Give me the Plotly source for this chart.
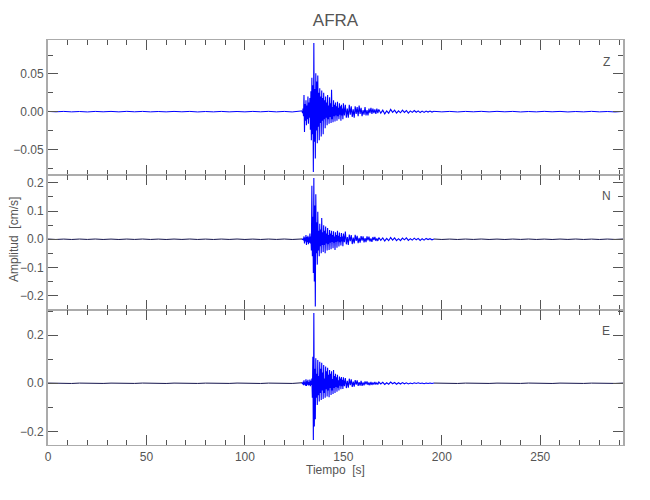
import numpy as np
import plotly.graph_objects as go
from plotly.subplots import make_subplots

# ---------------- data ----------------
TITLE = "AFRA"
COMPONENTS = ["Z", "N", "E"]
X_LABEL = "Tiempo  [s]"
Y_LABEL = "Amplitud  [cm/s]"
X_TICKS = [0, 50, 100, 150, 200, 250]

# sampling of each segment (start time, step in s)
PRE_T0, PRE_DT = 0.0, 4.0
EVT_T0, EVT_DT = 129.0, 0.25
MID_T0, MID_DT = 150.0, 0.5
TAIL_T0, TAIL_DT = 168.0, 1.0
POST_T0, POST_DT = 196.0, 4.0

# ---- Z component ----
z_pre = [0.0003, -0.0002, 0.0003, -0.0003, 0.0002, -0.0004, 0.0003, -0.0002,
         0.0003, -0.0003, 0.0004, -0.0002, 0.0003, -0.0003, 0.0002, -0.0003,
         0.0003, -0.0002, 0.0003, -0.0004, 0.0002, -0.0003, 0.0003, -0.0003,
         0.0002, -0.0003, 0.0003, -0.0002, 0.0004, -0.0003, 0.0003, -0.0004]
z_evt = [0.001, -0.002, 0.004, -0.006,
         0.022, -0.027, 0.010, -0.012,
         0.015, -0.018, 0.008, -0.010,
         0.020, -0.016, 0.012, -0.008,
         0.018, -0.024, 0.027, -0.038,
         0.045, -0.030, 0.035, -0.080,
         0.091, -0.040, 0.030, -0.062,
         0.051, -0.025, 0.040, -0.042,
         0.048, -0.020, 0.025, -0.038,
         0.031, -0.015, 0.020, -0.033,
         0.028, -0.012, 0.018, -0.030,
         0.025, -0.010, 0.015, -0.022,
         0.020, -0.008, 0.012, -0.018,
         0.022, -0.010, 0.008, -0.016,
         0.019, -0.007, 0.011, -0.015,
         0.029, -0.010, 0.006, -0.014,
         0.015, -0.006, 0.009, -0.013,
         0.012, -0.005, 0.007, -0.012,
         0.013, -0.006, 0.005, -0.010,
         0.011, -0.004, 0.007, -0.012,
         0.009, -0.005, 0.004, -0.010]
z_mid = [0.011, -0.005, 0.009, -0.008, 0.004, -0.008, 0.009, -0.004,
         0.007, -0.007, 0.003, -0.008, 0.007, -0.003, 0.006, -0.006,
         0.008, -0.003, 0.005, -0.006, 0.002, -0.004, 0.006, -0.005,
         0.002, -0.005, 0.004, -0.002, 0.005, -0.003, 0.004, -0.002,
         0.003, -0.003, 0.004, -0.002]
z_tail = [0.003, -0.002, 0.002, -0.003, 0.001, -0.002, 0.003, -0.001,
          0.002, -0.002, 0.001, -0.0015, 0.002, -0.001, 0.0015, -0.002,
          0.001, -0.001, 0.0015, -0.0008, 0.001, -0.0012, 0.0007, -0.001,
          0.0008, -0.0006, 0.0007, -0.0006]
z_post = [0.0004, -0.0003, 0.0003, -0.0004, 0.0003, -0.0002, 0.0004, -0.0003,
          0.0004, -0.0002, 0.0003, -0.0004, 0.0002, -0.0003, 0.0004, -0.0002,
          0.0003, -0.0004, 0.0002, -0.0003, 0.0004, -0.0003, 0.0002, -0.0004,
          0.0003]

# ---- N component ----
n_pre = [0.0008, -0.0007, 0.0006, -0.0008, 0.0007, -0.0006, 0.0008, -0.0007,
         0.0006, -0.0008, 0.0007, -0.0006, 0.0008, -0.0007, 0.0006, -0.0008,
         0.0007, -0.0006, 0.0008, -0.0007, 0.0006, -0.0008, 0.0007, -0.0006,
         0.0008, -0.0007, 0.0006, -0.0008, 0.0007, -0.0006, 0.0008, -0.0007]
n_evt = [0.001, -0.002, 0.003, -0.004,
         0.010, -0.015, 0.006, -0.008,
         0.015, -0.020, 0.008, -0.010,
         0.012, -0.018, 0.007, -0.012,
         0.020, -0.015, 0.010, -0.040,
         0.190, -0.060, 0.080, -0.120,
         0.217, -0.150, 0.120, -0.239,
         0.160, -0.050, 0.060, -0.090,
         0.098, -0.040, 0.030, -0.060,
         0.055, -0.025, 0.035, -0.050,
         0.075, -0.020, 0.025, -0.045,
         0.050, -0.020, 0.030, -0.050,
         0.045, -0.015, 0.020, -0.040,
         0.040, -0.018, 0.015, -0.038,
         0.033, -0.012, 0.020, -0.035,
         0.030, -0.010, 0.015, -0.032,
         0.028, -0.012, 0.010, -0.038,
         0.025, -0.010, 0.015, -0.030,
         0.030, -0.008, 0.012, -0.026,
         0.024, -0.010, 0.008, -0.022,
         0.022, -0.008, 0.010, -0.025]
n_mid = [0.020, -0.010, 0.027, -0.018, 0.008, -0.020, 0.017, -0.007,
         0.015, -0.017, 0.006, -0.015, 0.016, -0.006, 0.012, -0.014,
         0.005, -0.012, 0.011, -0.005, 0.010, -0.011, 0.004, -0.010,
         0.010, -0.004, 0.009, -0.008, 0.003, -0.009, 0.008, -0.003,
         0.008, -0.006, 0.003, -0.006]
n_tail = [0.006, -0.004, 0.005, -0.006, 0.003, -0.005, 0.006, -0.003,
          0.005, -0.005, 0.002, -0.005, 0.004, -0.002, 0.005, -0.004,
          0.002, -0.003, 0.004, -0.002, 0.003, -0.004, 0.002, -0.003,
          0.003, -0.001, 0.002, -0.002]
n_post = [0.0008, -0.0007, 0.0006, -0.0008, 0.0007, -0.0006, 0.0008, -0.0007,
          0.0006, -0.0008, 0.0007, -0.0006, 0.0008, -0.0007, 0.0006, -0.0008,
          0.0007, -0.0006, 0.0008, -0.0007, 0.0006, -0.0008, 0.0007, -0.0006,
          0.0008]

# ---- E component ----
e_pre = [0.0008, -0.0007, 0.0006, -0.0008, 0.0007, -0.0006, 0.0008, -0.0007,
         0.0006, -0.0008, 0.0007, -0.0006, 0.0008, -0.0007, 0.0006, -0.0008,
         0.0007, -0.0006, 0.0008, -0.0007, 0.0006, -0.0008, 0.0007, -0.0006,
         0.0008, -0.0007, 0.0006, -0.0008, 0.0007, -0.0006, 0.0008, -0.0007]
e_evt = [0.002, -0.003, 0.006, -0.008,
         0.012, -0.006, 0.004, -0.010,
         0.017, -0.011, 0.008, -0.006,
         0.014, -0.009, 0.005, -0.008,
         0.015, -0.012, 0.010, -0.007,
         0.020, -0.060, 0.110, -0.236,
         0.292, -0.180, 0.060, -0.150,
         0.104, -0.060, 0.040, -0.090,
         0.097, -0.050, 0.030, -0.076,
         0.090, -0.040, 0.060, -0.070,
         0.085, -0.030, 0.045, -0.065,
         0.076, -0.040, 0.020, -0.060,
         0.070, -0.025, 0.050, -0.055,
         0.065, -0.030, 0.035, -0.058,
         0.055, -0.020, 0.040, -0.049,
         0.050, -0.030, 0.018, -0.045,
         0.055, -0.020, 0.030, -0.040,
         0.040, -0.015, 0.025, -0.035,
         0.035, -0.018, 0.012, -0.030,
         0.028, -0.010, 0.020, -0.025,
         0.026, -0.012, 0.015, -0.024]
e_mid = [0.025, -0.012, 0.022, -0.020, 0.010, -0.018, 0.019, -0.008,
         0.016, -0.015, 0.007, -0.014, 0.013, -0.006, 0.012, -0.011,
         0.005, -0.010, 0.010, -0.011, 0.004, -0.009, 0.008, -0.004,
         0.008, -0.007, 0.003, -0.008, 0.006, -0.007, 0.003, -0.005,
         0.006, -0.005, 0.002, -0.005]
e_tail = [0.005, -0.003, 0.004, -0.005, 0.002, -0.004, 0.005, -0.002,
          0.003, -0.004, 0.002, -0.003, 0.003, -0.002, 0.002, -0.003,
          0.001, -0.002, 0.002, -0.001, 0.002, -0.001, 0.001, -0.002,
          0.001, -0.001, 0.001, -0.001]
e_post = [0.0008, -0.0007, 0.0006, -0.0008, 0.0007, -0.0006, 0.0008, -0.0007,
          0.0006, -0.0008, 0.0007, -0.0006, 0.0008, -0.0007, 0.0006, -0.0008,
          0.0007, -0.0006, 0.0008, -0.0007, 0.0006, -0.0008, 0.0007, -0.0006,
          0.0008]

DATA = {
    "Z": (z_pre, z_evt, z_mid, z_tail, z_post),
    "N": (n_pre, n_evt, n_mid, n_tail, n_post),
    "E": (e_pre, e_evt, e_mid, e_tail, e_post),
}

# ---------------- styling ----------------
Y_RANGES = {"Z": [-0.084, 0.095], "N": [-0.251, 0.228], "E": [-0.257, 0.305]}
Y_DTICK = {"Z": 0.05, "N": 0.1, "E": 0.2}
Y_MINOR = {"Z": 0.025, "N": 0.05, "E": 0.1}
Y_FMT = {"Z": ".2f", "N": ".1f", "E": ".1f"}
QUIET_COLOR = {"Z": "#0000ff", "N": "#15154d", "E": "#15154d"}
TRACE_COLOR = "#0000ff"
FONT = "Liberation Sans, Arial, sans-serif"
TXT = "#555555"
LINE = "#ababab"
TICK = "#555555"

W, H = 650, 500
L, R, T, B = 48, 27, 40, 55


def times(t0, dt, vals):
    return list(t0 + dt * np.arange(len(vals)))


fig = make_subplots(rows=3, cols=1, shared_xaxes=True, vertical_spacing=0)

for i, comp in enumerate(COMPONENTS, start=1):
    pre, evt, mid, tail, post = DATA[comp]
    tp = times(PRE_T0, PRE_DT, pre)
    te = times(EVT_T0, EVT_DT, evt)
    tm = times(MID_T0, MID_DT, mid)
    tt = times(TAIL_T0, TAIL_DT, tail)
    to = times(POST_T0, POST_DT, post)
    fig.add_trace(go.Scatter(x=tp + te[:1], y=pre + evt[:1], mode="lines",
                             line=dict(color=QUIET_COLOR[comp], width=1),
                             showlegend=False, hoverinfo="skip"), row=i, col=1)
    fig.add_trace(go.Scatter(x=te + tm + tt + to[:1], y=evt + mid + tail + post[:1],
                             mode="lines", line=dict(color=TRACE_COLOR, width=1.1),
                             showlegend=False, hoverinfo="skip"), row=i, col=1)
    fig.add_trace(go.Scatter(x=to, y=post, mode="lines",
                             line=dict(color=QUIET_COLOR[comp], width=1),
                             showlegend=False, hoverinfo="skip"), row=i, col=1)

    fig.update_xaxes(row=i, col=1, range=[0, 292], tickmode="array", tickvals=X_TICKS,
                     ticks="inside", ticklen=10, tickwidth=1, tickcolor=TICK,
                     minor=dict(dtick=10, tick0=0, ticks="inside", ticklen=5,
                                tickwidth=1, tickcolor=TICK),
                     showline=True, linecolor=LINE, linewidth=1.2, mirror="ticks",
                     showgrid=False, zeroline=False,
                     tickfont=dict(family=FONT, size=12, color=TXT))
    fig.update_yaxes(row=i, col=1, range=Y_RANGES[comp], dtick=Y_DTICK[comp], tick0=0,
                     tickformat=Y_FMT[comp],
                     ticks="inside", ticklen=10, tickwidth=1, tickcolor=TICK,
                     minor=dict(dtick=Y_MINOR[comp], tick0=0, ticks="inside", ticklen=5,
                                tickwidth=1, tickcolor=TICK),
                     showline=True, linecolor=LINE, linewidth=2, mirror="ticks",
                     showgrid=False, zeroline=False,
                     tickfont=dict(family=FONT, size=12, color=TXT))

plot_w = W - L - R
plot_h = H - T - B
LABEL_Y = {"Z": 62, "N": 196, "E": 331}
for comp in COMPONENTS:
    fig.add_annotation(text=comp, xref="paper", yref="paper",
                       x=(606 - L) / plot_w, y=(H - B - LABEL_Y[comp]) / plot_h,
                       xanchor="center", yanchor="middle",
                       showarrow=False, font=dict(family=FONT, size=12, color=TXT))

fig.add_annotation(text=Y_LABEL, xref="paper", yref="paper",
                   x=(14 - L) / plot_w, y=(H - B - 240) / plot_h, textangle=-90,
                   xanchor="center", yanchor="middle",
                   showarrow=False, font=dict(family=FONT, size=12, color=TXT))
fig.add_annotation(text=X_LABEL, xref="paper", yref="paper",
                   x=(335 - L) / plot_w, y=(H - B - 470) / plot_h,
                   xanchor="center", yanchor="middle",
                   showarrow=False, font=dict(family=FONT, size=12, color=TXT))

fig.update_layout(
    width=W, height=H,
    margin=dict(l=L, r=R, t=T, b=B),
    paper_bgcolor="white", plot_bgcolor="white",
    title=dict(text=TITLE, x=0.5, xref="paper", xanchor="center",
               y=1 - 20 / H, yref="container", yanchor="middle",
               font=dict(family=FONT, size=17, color=TXT)),
    showlegend=False,
)

fig.write_html("out.html", config={"displayModeBar": False},
               post_script="document.body.style.margin='0';")
